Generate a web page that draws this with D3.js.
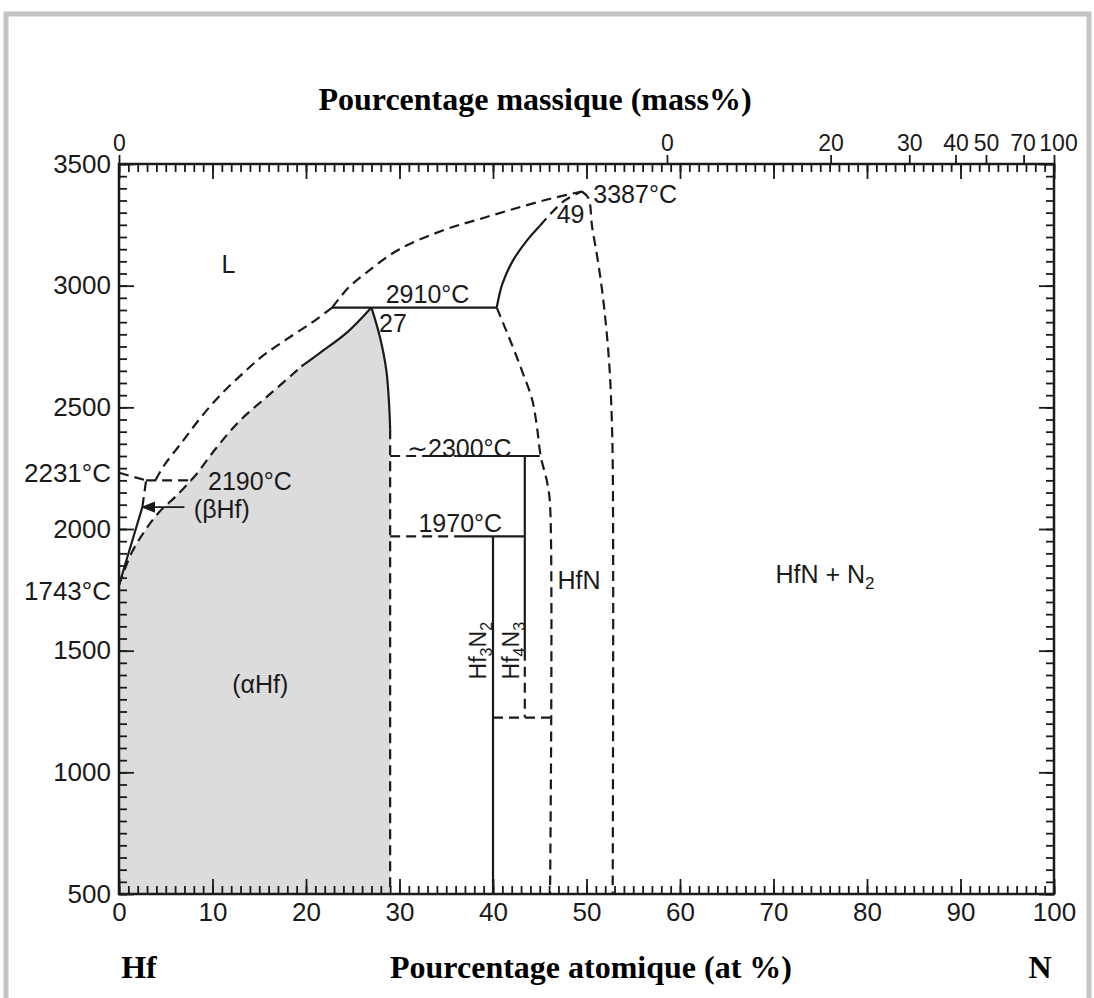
<!DOCTYPE html>
<html>
<head>
<meta charset="utf-8">
<script src="https://cdn.jsdelivr.net/npm/d3@7"></script>
<style>
  body { margin: 0; background: #fff; }
  svg text { font-family: "Liberation Sans", Arial, sans-serif; fill: #1a1a1a; }
  .title { font-family: "Liberation Serif", "Times New Roman", serif !important; font-weight: bold; fill: #000; }
</style>
</head>
<body>
<div id="chart"></div>
<script>
// ---- data (at% N, temperature °C) ----
const bottomTicks = d3.range(0, 101, 10);
const tempTicks = d3.range(500, 3501, 500);
const tempSpecial = [2231, 1743];
const massTicks = [0, 10, 20, 30, 40, 50, 70, 100];
const massLabels = ["0", "0", "20", "30", "40", "50", "70", "100"];

const liquidusHf = [[3.9, 2200], [4.8, 2260], [6.6, 2350], [8.6, 2451], [10.7, 2545], [12.9, 2627],
  [15.3, 2709], [17.9, 2779], [20.7, 2850], [22.8, 2910]];
const liquidusN = [[22.8, 2910], [24.5, 2990], [26.5, 3055], [30, 3150], [35, 3232], [38.6, 3274],
  [42.1, 3314], [45.8, 3354], [49.5, 3387]];
const betaTop = [[0, 2231], [2.9, 2200]];
const peritectic2190 = [[2.9, 2200], [7.7, 2200]];
const betaSolvusSolid = [[0, 1770], [2.5, 2090]];
const betaSolvusDash = [[2.5, 2090], [2.9, 2200]];
const alphaBeta = [[0, 1770], [1.4, 1906], [2.9, 2000], [4.3, 2070], [6.1, 2135], [7.7, 2200]];
const alphaSolidusDash = [[7.7, 2200], [8.3, 2226], [10.4, 2333], [12.9, 2444], [15.8, 2543],
  [18.6, 2637], [19.5, 2668]];
const alphaSolidusSolid = [[19.5, 2668], [21.5, 2724], [24.4, 2808], [27, 2910]];
const alphaSolvusSolid = [[27, 2910], [27.9, 2790], [28.6, 2650], [28.9, 2504], [29, 2410]];
const alphaSolvusDash = [[29, 2410], [29, 500]];
const line2910 = [[22.8, 2910], [40.4, 2910]];
const hfnSolidusSolid = [[40.4, 2910], [41.0, 3007], [42.1, 3101], [43.6, 3184], [45.0, 3245]];
const hfnSolidusDash = [[45.0, 3245], [47.5, 3345], [49.5, 3387]];
const hfnRight = [[49.5, 3387], [50.2, 3360], [50.6, 3242], [51.2, 3106], [51.7, 2971], [52.1, 2831],
  [52.4, 2696], [52.6, 2560], [52.8, 2285], [52.8, 500]];
const hfnLeft = [[40.4, 2910], [42.1, 2750], [43.2, 2640], [44.2, 2530], [44.7, 2420], [45.1, 2300],
  [45.8, 2190], [46.1, 2100], [46.1, 500]];
const line2300Dash = [[29, 2300], [36.1, 2300]];
const line2300Solid = [[36.1, 2300], [45.0, 2300]];
const line1970Dash = [[29, 1970], [36.8, 1970]];
const line1970Solid = [[36.8, 1970], [43.4, 1970]];
const hf3n2Line = [[40, 1970], [40, 500]];
const hf4n3Solid = [[43.4, 2300], [43.4, 1500]];
const hf4n3Dash = [[43.4, 1500], [43.4, 1225]];
const line1225 = [[40, 1225], [46.1, 1225]];
const betaArrow = [[7.0, 2090], [2.5, 2090]];

// labels: text, at%, T
const labels = [
  ["L", 11.7, 3089], ["2910°C", 33.0, 2966], ["27", 29.3, 2847], ["3387°C", 55.2, 3377],
  ["49", 48.3, 3295], ["∼2300°C", 36.4, 2333], ["1970°C", 36.5, 2025], ["2190°C", 14.0, 2197],
  ["(βHf)", 11.0, 2082], ["(αHf)", 15.1, 1363], ["HfN", 49.2, 1790]
];

const W = 1094, H = 998;
const x = d3.scaleLinear().domain([0, 100]).range([119, 1054]);
const y = d3.scaleLinear().domain([500, 3500]).range([894, 164]);

// at% N for a given mass% N
const massToAt = m => {
  const n = m / 14.007, hf = (100 - m) / 178.49;
  return 100 * n / (n + hf);
};

const svg = d3.select("#chart").append("svg")
  .attr("width", W).attr("height", H);

// grey page frame
svg.append("rect")
  .attr("x", 6).attr("y", 14).attr("width", 1083).attr("height", 1010)
  .attr("fill", "none").attr("stroke", "#c4c4c4").attr("stroke-width", 5);

const line = d3.line().x(d => x(d[0])).y(d => y(d[1]));
const smooth = d3.line().x(d => x(d[0])).y(d => y(d[1])).curve(d3.curveCatmullRom.alpha(0.5));
const draw = d => (d.length > 2 ? smooth(d) : line(d));
const ink = "#1a1a1a";

// shaded (alpha Hf) field, chained from its boundary pieces
const fieldParts = [[[0, 500], [0, 1770]], alphaBeta, alphaSolidusDash, alphaSolidusSolid,
  alphaSolvusSolid, alphaSolvusDash];
const fieldPath = fieldParts.map((p, i) => (i ? draw(p).replace(/^M/, "L") : draw(p))).join("") + "Z";
svg.append("path").attr("d", fieldPath).attr("fill", "#dcdcdc");

const solid = [betaSolvusSolid, alphaSolidusSolid, alphaSolvusSolid, line2910, hfnSolidusSolid,
  line2300Solid, line1970Solid, hf3n2Line, hf4n3Solid];
const dashed = [liquidusHf, liquidusN, betaTop, peritectic2190, betaSolvusDash, alphaBeta,
  alphaSolidusDash, alphaSolvusDash, hfnSolidusDash, hfnRight, hfnLeft, line2300Dash,
  line1970Dash, hf4n3Dash, line1225];

svg.append("g").selectAll("path").data(solid).enter().append("path")
  .attr("d", draw).attr("fill", "none").attr("stroke", ink).attr("stroke-width", 2.2);
svg.append("g").selectAll("path").data(dashed).enter().append("path")
  .attr("d", draw).attr("fill", "none").attr("stroke", ink).attr("stroke-width", 2.2)
  .attr("stroke-dasharray", "10,6");

// arrow to the (beta Hf) field
svg.append("defs").append("marker")
  .attr("id", "arr").attr("viewBox", "0 0 10 10").attr("refX", 9).attr("refY", 5)
  .attr("markerWidth", 8).attr("markerHeight", 8).attr("orient", "auto")
  .append("path").attr("d", "M0,1L10,5L0,9Z").attr("fill", ink);
svg.append("path").attr("d", line(betaArrow)).attr("stroke", ink).attr("stroke-width", 1.8)
  .attr("marker-end", "url(#arr)");

// axes (ticks point inwards)
function styleAxis(g, size = 26) {
  g.select(".domain").remove();
  g.selectAll(".tick line").attr("stroke", ink).attr("stroke-width", 1.8);
  g.selectAll("text").attr("font-size", size).attr("fill", ink)
    .style("font-family", "'Liberation Sans', Arial, sans-serif");
}
const atMinor = d3.range(0, 101, 1);
const tMinor = d3.range(500, 3501, 50);

svg.append("g").attr("transform", `translate(0,${y(500)})`)
  .call(d3.axisBottom(x).tickValues(atMinor).tickSize(-8).tickFormat("")).call(styleAxis);
svg.append("g").attr("transform", `translate(0,${y(500)})`)
  .call(d3.axisBottom(x).tickValues(bottomTicks).tickSize(-15).tickPadding(9).tickFormat(d3.format("d")))
  .call(styleAxis);

svg.append("g").attr("transform", `translate(0,${y(3500)})`)
  .call(d3.axisTop(x).tickValues(atMinor).tickSize(-8).tickFormat("")).call(styleAxis);
svg.append("g").attr("transform", `translate(0,${y(3500)})`)
  .call(d3.axisTop(x).tickValues(bottomTicks).tickSize(-15).tickFormat("")).call(styleAxis);
const massAxis = svg.append("g").attr("transform", `translate(0,${y(3500)})`)
  .call(d3.axisTop(x).tickValues(massTicks.map(massToAt)).tickSize(9).tickPadding(4)
    .tickFormat((d, i) => massLabels[i]))
  .call(g => styleAxis(g, 23));
massAxis.selectAll("text").filter((d, i) => i === massTicks.length - 1).attr("dx", 4);
massAxis.selectAll("text").filter((d, i) => i === massTicks.length - 2).attr("dx", -1);

svg.append("g").attr("transform", `translate(${x(0)},0)`)
  .call(d3.axisLeft(y).tickValues(tMinor).tickSize(-8).tickFormat("")).call(styleAxis);
svg.append("g").attr("transform", `translate(${x(0)},0)`)
  .call(d3.axisLeft(y).tickValues(tempTicks).tickSize(-15).tickPadding(8).tickFormat(d3.format("d")))
  .call(styleAxis);
svg.append("g").attr("transform", `translate(${x(0)},0)`)
  .call(d3.axisLeft(y).tickValues(tempSpecial).tickSize(0).tickPadding(8).tickFormat(d => d + "°C"))
  .call(styleAxis);

svg.append("g").attr("transform", `translate(${x(100)},0)`)
  .call(d3.axisRight(y).tickValues(tMinor).tickSize(-8).tickFormat("")).call(styleAxis);
svg.append("g").attr("transform", `translate(${x(100)},0)`)
  .call(d3.axisRight(y).tickValues(tempTicks).tickSize(-15).tickFormat("")).call(styleAxis);

// plot frame
svg.append("rect")
  .attr("x", x(0)).attr("y", y(3500)).attr("width", x(100) - x(0)).attr("height", y(500) - y(3500))
  .attr("fill", "none").attr("stroke", ink).attr("stroke-width", 2.5);

// field labels
svg.append("g").selectAll("text").data(labels).enter().append("text")
  .attr("x", d => x(d[1])).attr("y", d => y(d[2]))
  .attr("text-anchor", "middle").attr("dy", "0.36em")
  .attr("font-size", 25).text(d => d[0]);

const hfnN2 = svg.append("text").attr("x", x(75.5)).attr("y", y(1815)).attr("dy", "0.36em")
  .attr("text-anchor", "middle").attr("font-size", 25);
hfnN2.append("tspan").text("HfN + N");
hfnN2.append("tspan").attr("font-size", 17).attr("dy", 6).text("2");

function vertLabel(a, b, at, t) {
  const tx = svg.append("text")
    .attr("transform", `translate(${x(at)},${y(t)}) rotate(-90)`)
    .attr("text-anchor", "middle").attr("dy", "0.36em").attr("font-size", 23);
  tx.append("tspan").text("Hf");
  tx.append("tspan").attr("font-size", 16).attr("dy", 6).text(a);
  tx.append("tspan").attr("dy", -6).text("N");
  tx.append("tspan").attr("font-size", 16).attr("dy", 6).text(b);
}
vertLabel("3", "2", 38.4, 1500);
vertLabel("4", "3", 41.9, 1500);

// titles
svg.append("text").attr("class", "title").attr("x", 535).attr("y", 110)
  .attr("text-anchor", "middle").attr("font-size", 32).text("Pourcentage massique (mass%)");
svg.append("text").attr("class", "title").attr("x", 139).attr("y", 978)
  .attr("text-anchor", "middle").attr("font-size", 32).text("Hf");
svg.append("text").attr("class", "title").attr("x", 591).attr("y", 978)
  .attr("text-anchor", "middle").attr("font-size", 32).text("Pourcentage atomique (at %)");
svg.append("text").attr("class", "title").attr("x", 1040).attr("y", 978)
  .attr("text-anchor", "middle").attr("font-size", 32).text("N");
</script>
</body>
</html>
